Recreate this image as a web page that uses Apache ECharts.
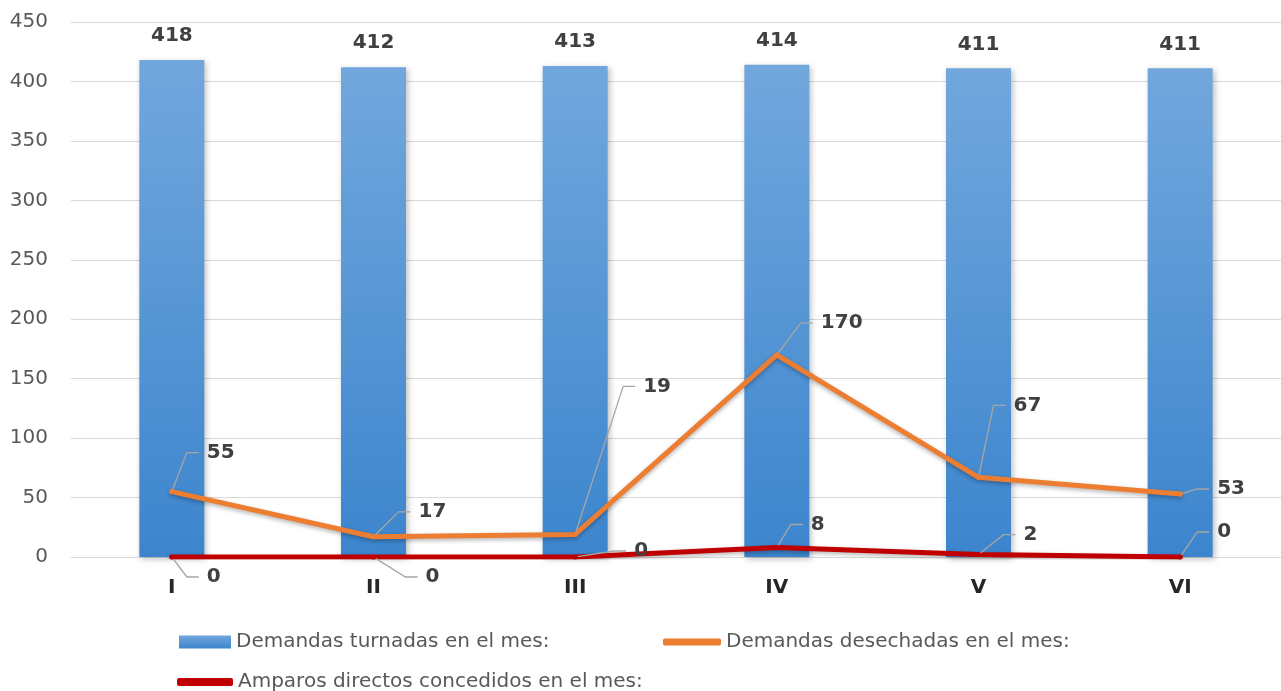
<!DOCTYPE html>
<html><head><meta charset="utf-8">
<script src="https://cdn.jsdelivr.net/npm/echarts@6/dist/echarts.min.js"></script>
<style>html,body{margin:0;padding:0;background:#fff}#c{width:1281px;height:691px}</style>
</head><body><div id="c"></div>
<script>
const categories = ['I', 'II', 'III', 'IV', 'V', 'VI'];
const turnadas = [418, 412, 413, 414, 411, 411];
const desechadas = [55, 17, 19, 170, 67, 53];
const amparos = [0, 0, 0, 8, 2, 0];
const seriesNames = ['Demandas turnadas en el mes:', 'Demandas desechadas en el mes:', 'Amparos directos concedidos en el mes:'];
const yMin = 0, yMax = 450, yStep = 50;

// label callout offsets (label text left / middle relative to the point)
const desechadasLabelOffsets = [[35, -39], [45, -25], [68, -148], [44, -32], [35, -72], [37, -5]];
const amparosLabelOffsets = [[35, 20], [52, 20], [59, -6], [34, -23], [45, -20], [37, -25]];

const FONT = 'DejaVu Sans';
const PAD_LEFT = 8;

function calloutLayout(offsets) {
  return function (p) {
    const o = offsets[p.dataIndex];
    const cx = p.rect.x + p.rect.width / 2;
    const cy = p.rect.y + p.rect.height / 2;
    return { x: cx + o[0] - PAD_LEFT, y: cy + o[1], align: 'left', verticalAlign: 'middle' };
  };
}

const valueLabel = { fontFamily: FONT, fontWeight: 'bold', fontSize: 20, color: '#404040' };
const legendText = { fontFamily: FONT, fontSize: 20, color: '#595959' };
const clear = 'rgba(255,255,255,0)';
const calloutLabel = Object.assign({
  show: true, position: 'right', distance: 0, align: 'left',
  formatter: function (p) { return '{p| }{v|' + p.value + '}{s| }'; },
  rich: {
    p: { width: PAD_LEFT, fontSize: 20, color: clear, backgroundColor: clear },
    v: Object.assign({}, valueLabel),
    s: { width: 220, fontSize: 20, color: clear, backgroundColor: clear }
  }
}, valueLabel);

const chart = echarts.init(document.getElementById('c'), null, { renderer: 'canvas' });
chart.setOption({
  animation: false,
  backgroundColor: '#ffffff',
  grid: { left: 71, right: -4, top: 22, bottom: 134, containLabel: false },
  xAxis: {
    type: 'category', data: categories,
    axisLine: { lineStyle: { color: '#d9d9d9', width: 1 } },
    axisTick: { show: false },
    axisLabel: { fontFamily: FONT, fontWeight: 'bold', fontSize: 20, color: '#262626', margin: 21 }
  },
  yAxis: {
    type: 'value', min: yMin, max: yMax, interval: yStep,
    axisLine: { show: false }, axisTick: { show: false },
    axisLabel: { fontFamily: FONT, fontSize: 20, color: '#595959', margin: 23 },
    splitLine: { lineStyle: { color: '#d9d9d9', width: 1 } }
  },
  legend: [
    { data: [{ name: seriesNames[0], icon: 'rect' }], left: 174, top: 627, itemWidth: 52, itemHeight: 13, itemGap: 0, textStyle: legendText, selectedMode: false },
    { data: [{ name: seriesNames[1], icon: 'roundRect' }], left: 658, top: 627, itemWidth: 58, itemHeight: 7, textStyle: legendText, selectedMode: false },
    { data: [{ name: seriesNames[2], icon: 'roundRect' }], left: 172, top: 667, itemWidth: 56, itemHeight: 8, textStyle: legendText, selectedMode: false }
  ],
  series: [
    {
      name: seriesNames[0], type: 'bar', data: turnadas, barWidth: 65,
      itemStyle: {
        color: new echarts.graphic.LinearGradient(0, 0, 0, 1, [
          { offset: 0, color: '#72a7dd' }, { offset: 1, color: '#3c85cd' }
        ]),
        shadowBlur: 6, shadowColor: 'rgba(0,0,0,0.25)', shadowOffsetX: 2, shadowOffsetY: 2
      },
      label: Object.assign({ show: true, position: 'top', distance: 14 }, valueLabel),
      emphasis: { disabled: true }, z: 1
    },
    {
      name: seriesNames[1], type: 'line', data: desechadas,
      symbol: 'circle', symbolSize: 5, showSymbol: true,
      lineStyle: { color: '#ed7d31', width: 5, join: 'round', cap: 'round', shadowBlur: 4, shadowColor: 'rgba(0,0,0,0.3)', shadowOffsetY: 2 },
      itemStyle: { color: '#ed7d31' },
      label: calloutLabel,
      labelLine: { show: true, length2: 12, lineStyle: { color: '#a6a6a6', width: 1.3 } },
      labelLayout: calloutLayout(desechadasLabelOffsets),
      emphasis: { disabled: true }, z: 3
    },
    {
      name: seriesNames[2], type: 'line', data: amparos,
      symbol: 'circle', symbolSize: 5, showSymbol: true,
      lineStyle: { color: '#c00000', width: 5, join: 'round', cap: 'round', shadowBlur: 4, shadowColor: 'rgba(0,0,0,0.3)', shadowOffsetY: 2 },
      itemStyle: { color: '#c00000' },
      label: calloutLabel,
      labelLine: { show: true, length2: 12, lineStyle: { color: '#a6a6a6', width: 1.3 } },
      labelLayout: calloutLayout(amparosLabelOffsets),
      emphasis: { disabled: true }, z: 4
    }
  ]
});
</script>
</body></html>
